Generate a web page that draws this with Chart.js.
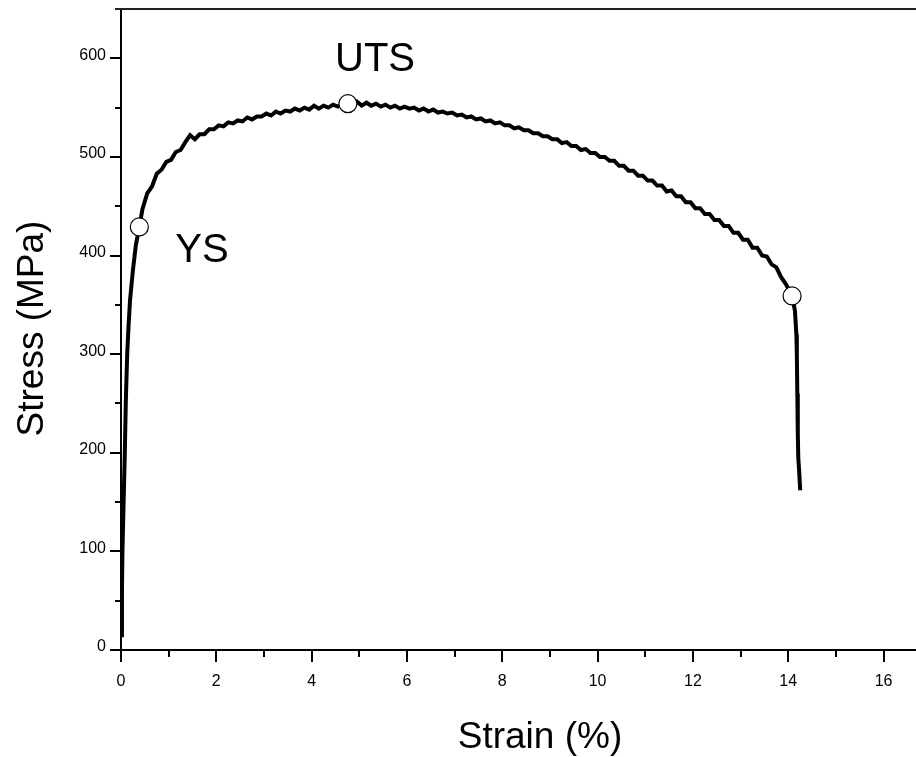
<!DOCTYPE html>
<html>
<head>
<meta charset="utf-8">
<script src="https://cdn.jsdelivr.net/npm/chart.js@4/dist/chart.umd.min.js"></script>
<style>
  html, body { margin: 0; padding: 0; background: #fff; }
  #wrap { width: 916px; height: 757px; position: relative; }
</style>
</head>
<body>
<div id="wrap"><canvas id="c"></canvas></div>
<script>
// ---- data ----
const strain = [0.00, 0.02, 0.03, 0.06, 0.08, 0.10, 0.13, 0.16, 0.19, 0.25, 0.31, 0.385,
  0.45, 0.55, 0.65, 0.75, 0.85, 0.95, 1.05, 1.15, 1.25, 1.35, 1.45, 1.55, 1.65, 1.75, 1.85, 1.95,
  2.05, 2.15, 2.25, 2.35, 2.45, 2.55, 2.65, 2.75, 2.85, 2.95, 3.05, 3.15, 3.25, 3.35, 3.45, 3.55,
  3.65, 3.75, 3.85, 3.95, 4.05, 4.15, 4.25, 4.35, 4.45, 4.55, 4.65, 4.76, 4.85, 4.95, 5.05, 5.15,
  5.25, 5.35, 5.45, 5.55, 5.65, 5.75, 5.85, 5.95, 6.05, 6.15, 6.25, 6.35, 6.45, 6.55, 6.65, 6.75,
  6.85, 6.95, 7.05, 7.15, 7.25, 7.35, 7.45, 7.55, 7.65, 7.75, 7.85, 7.95, 8.05, 8.15, 8.25, 8.35,
  8.45, 8.55, 8.65, 8.75, 8.85, 8.95, 9.05, 9.15, 9.25, 9.35, 9.45, 9.55, 9.65, 9.75, 9.85, 9.95,
  10.05, 10.15, 10.25, 10.35, 10.45, 10.55, 10.65, 10.75, 10.85, 10.95, 11.05, 11.15, 11.25, 11.35,
  11.45, 11.55, 11.65, 11.75, 11.85, 11.95, 12.05, 12.15, 12.25, 12.35, 12.45, 12.55, 12.65, 12.75,
  12.85, 12.95, 13.05, 13.15, 13.25, 13.35, 13.45, 13.55, 13.65, 13.75, 13.85, 13.95, 14.08,
  14.14, 14.17, 14.18, 14.19, 14.20, 14.21, 14.23, 14.25];
const stress = [15, 60, 100, 160, 200, 250, 300, 330, 355, 385, 410, 429,
  447, 463, 470, 483, 487, 495, 497, 505, 507, 515, 522, 518, 523, 523, 528, 528,
  532, 531, 535, 534, 537, 536, 540, 538, 541, 541, 544, 542, 546, 544, 547, 546,
  549, 547, 550, 548, 552, 549, 552, 550, 553, 551, 554, 554, 552, 556, 552, 555,
  552, 554, 551, 553, 550, 552, 549, 551, 549, 550, 547, 549, 546, 548, 545, 546,
  544, 545, 542, 543, 540, 541, 538, 539, 536, 537, 534, 535, 532, 532, 529, 530,
  527, 527, 524, 524, 521, 521, 518, 518, 514, 515, 511, 511, 507, 508, 504, 504,
  500, 500, 496, 496, 491, 491, 486, 486, 481, 481, 476, 476, 471, 471,
  465, 466, 460, 460, 454, 454, 448, 448, 442, 442, 436, 436, 430, 430,
  423, 423, 416, 416, 408, 408, 400, 399, 391, 388, 378, 371, 359,
  344, 320, 300, 260, 220, 195, 180, 162];
const markerStrain = [0.385, 4.76, 14.08];
const markerStress = [429, 554, 359];
const noteText = ['UTS', 'YS'];
const noteStrain = [5.33, 1.70];
const noteStress = [598, 405];
const xTitle = 'Strain (%)';
const yTitle = 'Stress (MPa)';

const curve = strain.map((x, i) => ({x: x, y: stress[i]}));
const markers = markerStrain.map((x, i) => ({x: x, y: markerStress[i]}));

const FONT = 'Arial, "Liberation Sans", Helvetica, sans-serif';

function zeroPad(s) { s.paddingTop = 0; s.paddingBottom = 0; s.paddingLeft = 0; s.paddingRight = 0; }

const decor = {
  id: 'decor',
  afterDraw(chart) {
    const ctx = chart.ctx;
    const xs = chart.scales.x, ys = chart.scales.y;
    const ca = chart.chartArea;
    ctx.save();
    ctx.strokeStyle = '#000';
    ctx.lineWidth = 2;
    for (let v = 0; v <= 16; v += 1) {
      const px = Math.round(xs.getPixelForValue(v));
      const len = v % 2 === 0 ? 12 : 7;
      ctx.beginPath();
      ctx.moveTo(px, ca.bottom);
      ctx.lineTo(px, ca.bottom + len);
      ctx.stroke();
    }
    for (let v = 0; v <= 600; v += 50) {
      const py = Math.round(ys.getPixelForValue(v));
      const len = v % 100 === 0 ? 11 : 6;
      ctx.beginPath();
      ctx.moveTo(ca.left - len, py);
      ctx.lineTo(ca.left, py);
      ctx.stroke();
    }
    ctx.strokeStyle = '#222';
    ctx.beginPath();
    ctx.moveTo(ca.left - 6, ca.top);
    ctx.lineTo(chart.width, ca.top);
    ctx.stroke();
    ctx.fillStyle = '#000';
    ctx.textAlign = 'center';
    ctx.textBaseline = 'middle';
    ctx.font = '40px ' + FONT;
    noteText.forEach((t, i) => {
      ctx.fillText(t, xs.getPixelForValue(noteStrain[i]), ys.getPixelForValue(noteStress[i]));
    });
    ctx.font = '37px ' + FONT;
    ctx.fillText(xTitle, 540, 738);
    ctx.save();
    ctx.translate(33, (ca.top + ca.bottom) / 2 - 1);
    ctx.rotate(-Math.PI / 2);
    ctx.fillText(yTitle, 0, 0);
    ctx.restore();
    ctx.restore();
  }
};

new Chart(document.getElementById('c'), {
  type: 'scatter',
  data: {
    datasets: [
      {
        data: markers,
        showLine: false,
        pointRadius: 9,
        pointHoverRadius: 9,
        pointBackgroundColor: '#fff',
        pointBorderColor: '#000',
        pointBorderWidth: 1.2,
        clip: false
      },
      {
        data: curve,
        showLine: true,
        borderColor: '#000',
        borderWidth: 4,
        pointRadius: 0,
        tension: 0,
        fill: false
      }
    ]
  },
  options: {
    responsive: true,
    maintainAspectRatio: false,
    animation: false,
    events: [],
    layout: { autoPadding: false, padding: { top: 9, right: 0, left: 0, bottom: 0 } },
    plugins: { legend: { display: false }, tooltip: { enabled: false } },
    scales: {
      x: {
        type: 'linear',
        min: 0,
        max: 16.68,
        afterFit(s) { s.height = 107; zeroPad(s); },
        ticks: {
          stepSize: 2,
          includeBounds: false,
          padding: 22,
          color: '#000',
          font: { family: FONT, size: 16 },
          maxRotation: 0
        },
        grid: { display: true, drawOnChartArea: false, drawTicks: false, color: 'rgba(0,0,0,0)' },
        border: { display: true, color: '#000', width: 2 }
      },
      y: {
        type: 'linear',
        min: 0,
        max: 650,
        afterFit(s) { s.width = 121; zeroPad(s); },
        ticks: {
          stepSize: 100,
          includeBounds: false,
          padding: 15,
          labelOffset: -3,
          color: '#000',
          font: { family: FONT, size: 16 }
        },
        grid: { display: true, drawOnChartArea: false, drawTicks: false, color: 'rgba(0,0,0,0)' },
        border: { display: true, color: '#000', width: 2 }
      }
    }
  },
  plugins: [decor]
});
</script>
</body>
</html>
